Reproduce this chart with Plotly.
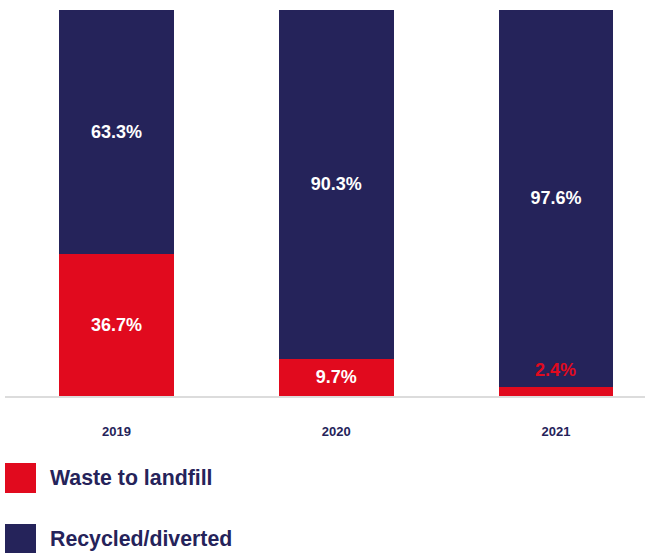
import plotly.graph_objects as go

years = ["2019", "2020", "2021"]
landfill = [36.7, 9.7, 2.4]
recycled = [63.3, 90.3, 97.6]
series_names = ["Waste to landfill", "Recycled/diverted"]

RED = "#E10A1E"
NAVY = "#25235A"
FONT = "Liberation Sans, Arial, Helvetica, sans-serif"
H = 553

fig = go.Figure()
fig.add_trace(go.Bar(
    x=years, y=landfill, name=series_names[0], marker_color=RED,
    marker_line_width=0,
    text=[f"{v}%" if v > 5 else "" for v in landfill],
    textposition="inside", insidetextanchor="middle",
    textfont=dict(color="white", size=18, family=FONT, weight="bold"),
    width=0.523,
))
fig.add_trace(go.Bar(
    x=years, y=recycled, name=series_names[1], marker_color=NAVY,
    marker_line_width=0,
    text=[f"{v}%" for v in recycled],
    textposition="inside", insidetextanchor="middle",
    textfont=dict(color="white", size=18, family=FONT, weight="bold"),
    width=0.523,
))

# small-segment label shown above the red bar, in red
for i, v in enumerate(landfill):
    if v <= 5:
        fig.add_annotation(x=i, y=v, yref="y", xref="x", text=f"{v}%",
                           showarrow=False, yanchor="bottom", yshift=5,
                           font=dict(color=RED, size=18, family=FONT, weight="bold"))

fig.update_layout(
    width=645, height=553,
    barmode="stack",
    showlegend=False,
    plot_bgcolor="white", paper_bgcolor="white",
    margin=dict(l=5, r=0, t=10, b=157),
    font=dict(family=FONT, color=NAVY),
    xaxis=dict(
        type="category", range=[-0.507, 2.405],
        showline=True, linecolor="#DCDCDC", linewidth=2,
        showgrid=False, zeroline=False,
        ticks="outside", ticklen=22, tickcolor="rgba(0,0,0,0)",
        tickfont=dict(size=13, color=NAVY, family=FONT, weight="bold"),
    ),
    yaxis=dict(range=[0, 100], visible=False, showgrid=False),
)

# custom legend (large square swatches)
leg_y = [463, 524]
colors = [RED, NAVY]
shapes = []
for name, col, top in zip(series_names, colors, leg_y):
    y_bot_px = H - (top + 30)
    y_top_px = H - top
    shapes.append(dict(type="rect", xref="paper", yref="paper",
                       x0=0, x1=31 / 640,
                       y0=(y_bot_px - 157) / 386, y1=(y_top_px - 157) / 386,
                       fillcolor=col, line_width=0))
    fig.add_annotation(xref="paper", yref="paper", x=43 / 640,
                       y=((y_bot_px + y_top_px) / 2 - 157) / 386,
                       text=name, showarrow=False, xanchor="left", yanchor="middle",
                       font=dict(size=21.3, color=NAVY, family=FONT, weight="bold"))
fig.update_layout(shapes=shapes)

fig.write_html("out.html")
